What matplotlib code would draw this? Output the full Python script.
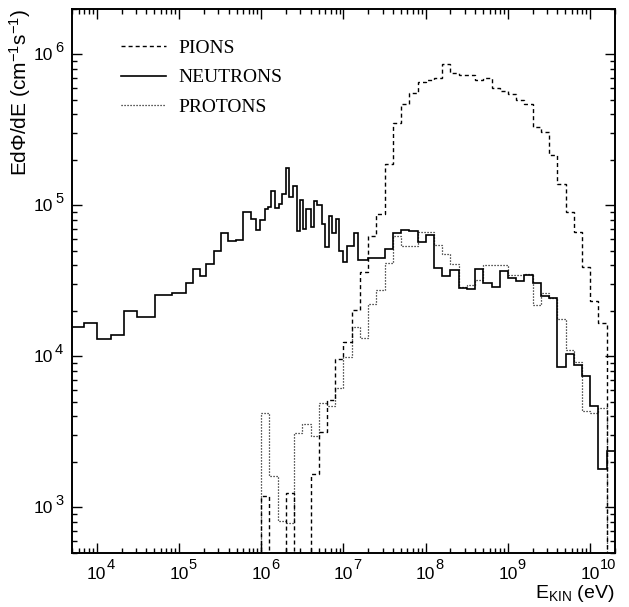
import numpy as np
import matplotlib
matplotlib.use('Agg')
import matplotlib.pyplot as plt
from matplotlib.lines import Line2D
from matplotlib.ticker import FixedLocator, LogLocator, NullFormatter, FuncFormatter

# bin edges in log10(E/eV)
neutron_log_edges = [3.60, 3.84, 4.00, 4.17, 4.33, 4.49, 4.71, 4.92, 5.08, 5.17,
                     5.25, 5.33, 5.42, 5.51, 5.60, 5.69, 5.78, 5.87, 5.94, 5.99,
                     6.04, 6.08, 6.12, 6.17, 6.21, 6.25, 6.30, 6.34, 6.38, 6.43,
                     6.47, 6.51, 6.55, 6.60, 6.64, 6.68, 6.74, 6.78, 6.82, 6.86,
                     6.91, 6.95, 7.00, 7.04, 7.13, 7.18, 7.3, 7.4, 7.5, 7.6,
                     7.7, 7.8, 7.9, 8.0, 8.1, 8.2, 8.3, 8.4, 8.5, 8.6,
                     8.7, 8.8, 8.9, 9.0, 9.1, 9.2, 9.3, 9.4, 9.5, 9.6,
                     9.7, 9.8, 9.9, 10.0, 10.1, 10.2, 10.3]
neutron_flux = [1.56e4, 1.65e4, 1.31e4, 1.38e4, 1.99e4, 1.81e4, 2.55e4, 2.61e4, 3.07e4, 3.80e4,
                3.38e4, 4.06e4, 4.97e4, 6.55e4, 5.85e4, 5.91e4, 9.08e4, 8.16e4, 6.90e4, 8.0e4,
                9.4e4, 9.7e4, 1.24e5, 9.55e4, 1.02e5, 1.19e5, 1.78e5, 1.13e5, 1.34e5, 6.81e4,
                1.09e5, 7.02e4, 9.5e4, 7.2e4, 1.07e5, 1.01e5, 7.5e4, 5.28e4, 8.45e4, 6.53e4,
                8.13e4, 4.97e4, 4.21e4, 5.42e4, 6.53e4, 4.36e4, 4.49e4, 4.49e4, 5.15e4, 6.53e4,
                6.88e4, 6.81e4, 5.70e4, 6.40e4, 3.86e4, 3.42e4, 3.74e4, 2.85e4, 2.80e4, 3.78e4,
                3.05e4, 2.90e4, 3.66e4, 3.31e4, 3.16e4, 3.46e4, 3.08e4, 2.51e4, 2.43e4, 8.51e3,
                1.04e4, 8.77e3, 7.39e3, 4.70e3, 1.80e3, 2.36e3]

hadron_log_edges = [5.9, 6.0, 6.1, 6.2, 6.3, 6.4, 6.5, 6.6, 6.7, 6.8,
                    6.9, 7.0, 7.1, 7.2, 7.3, 7.4, 7.5, 7.6, 7.7, 7.8,
                    7.9, 8.0, 8.1, 8.2, 8.3, 8.4, 8.5, 8.6, 8.7, 8.8,
                    8.9, 9.0, 9.1, 9.2, 9.3, 9.4, 9.5, 9.6, 9.7, 9.8,
                    9.9, 10.0, 10.1, 10.2, 10.3]
pion_flux = [0, 1.18e3, 0, 0, 1.24e3, 0, 0, 1.66e3, 3.17e3, 5.13e3,
             9.66e3, 1.24e4, 2.02e4, 3.61e4, 6.31e4, 8.77e4, 1.87e5, 3.53e5, 4.68e5, 5.58e5,
             6.59e5, 6.76e5, 7.0e5, 8.59e5, 7.55e5, 7.29e5, 7.29e5, 6.73e5, 6.94e5, 5.96e5,
             5.72e5, 5.50e5, 4.97e5, 4.68e5, 3.31e5, 3.04e5, 2.16e5, 1.38e5, 9.0e4, 6.64e4,
             3.90e4, 2.32e4, 1.66e4, 0]
proton_flux = [0, 4.23e3, 1.60e3, 806, 786, 3.09e3, 3.55e3, 2.97e3, 4.92e3, 4.68e3,
               6.12e3, 9.9e3, 1.56e4, 1.33e4, 2.23e4, 2.76e4, 4.14e4, 6.31e4, 5.34e4, 5.42e4,
               6.64e4, 6.64e4, 5.5e4, 4.78e4, 4.06e4, 2.88e4, 2.99e4, 3.21e4, 4.0e4, 4.0e4,
               4.0e4, 3.44e4, 3.47e4, 3.52e4, 2.18e4, 2.63e4, 2.43e4, 1.76e4, 1.10e4, 9.18e3,
               4.34e3, 4.19e3, 4.52e3, 0]

x_major = [1e4, 1e5, 1e6, 1e7, 1e8, 1e9, 1e10]
y_major = [1e3, 1e4, 1e5, 1e6]

plt.rcParams['font.family'] = ['Liberation Sans', 'DejaVu Sans']
plt.rcParams['mathtext.default'] = 'regular'

fig = plt.figure(figsize=(6.29, 6.07), dpi=100)
ax = fig.add_axes([0.1145, 0.0895, 0.8632, 0.8957])

floor = 1.0  # empty bins drop below the axis
pion_style = dict(color='k', lw=1.0, ls=(0, (2.9, 2.2)))
neutron_style = dict(color='k', lw=1.2, ls='-')
proton_style = dict(color='k', lw=0.9, ls=(0, (0.9, 1.5)))

ax.stairs(np.maximum(pion_flux, floor), 10 ** np.array(hadron_log_edges), baseline=None, **pion_style)
ax.stairs(np.maximum(neutron_flux, floor), 10 ** np.array(neutron_log_edges), baseline=None, **neutron_style)
ax.stairs(np.maximum(proton_flux, floor), 10 ** np.array(hadron_log_edges), baseline=None, **proton_style)

ax.set_xscale('log')
ax.set_yscale('log')
ax.set_xlim(5e3, 2e10)
ax.set_ylim(5e2, 2e6)

ax.xaxis.set_major_locator(FixedLocator(x_major))
ax.yaxis.set_major_locator(FixedLocator(y_major))
ax.xaxis.set_minor_locator(LogLocator(base=10, subs=range(2, 10), numticks=30))
ax.yaxis.set_minor_locator(LogLocator(base=10, subs=range(2, 10), numticks=30))
ax.xaxis.set_minor_formatter(NullFormatter())
ax.yaxis.set_minor_formatter(NullFormatter())
ax.xaxis.set_major_formatter(FuncFormatter(lambda v, p: '10'))
ax.yaxis.set_major_formatter(FuncFormatter(lambda v, p: '10'))

ax.tick_params(which='both', direction='in', top=True, right=True, labelsize=12.5)
ax.tick_params(which='major', length=7, width=1.0)
ax.tick_params(which='minor', length=3.5, width=1.0)
ax.tick_params(axis='x', which='major', pad=10.5)
ax.tick_params(axis='y', which='major', pad=13.5)
for sp in ax.spines.values():
    sp.set_linewidth(1.4)

# exponents of the tick labels
for v in x_major:
    ax.annotate(str(int(round(np.log10(v)))), xy=(v, 0), xycoords=('data', 'axes fraction'),
                xytext=(7.0, -4.0), textcoords='offset points', ha='left', va='top',
                fontsize=10.5, annotation_clip=False)
for v in y_major:
    ax.annotate(str(int(round(np.log10(v)))), xy=(0, v), xycoords=('axes fraction', 'data'),
                xytext=(-12.2, -0.5), textcoords='offset points', ha='left', va='bottom',
                fontsize=10.5, annotation_clip=False)

ax.set_ylabel('Ed\u03a6/dE (cm$^{-1}$s$^{-1}$)', fontsize=15, loc='top')
ax.yaxis.set_label_coords(-0.071, 1.0)
ax.set_xlabel('E$_{KIN}$ (eV)', fontsize=14, loc='right')
ax.xaxis.set_label_coords(1.0, -0.0557)

handles = [Line2D([], [], **pion_style), Line2D([], [], **neutron_style), Line2D([], [], **proton_style)]
ax.legend(handles, ['PIONS', 'NEUTRONS', 'PROTONS'], loc='upper left', bbox_to_anchor=(0.090, 0.944),
          frameon=False, borderpad=0, borderaxespad=0, handlelength=2.3, handletextpad=0.67,
          labelspacing=0.6, prop={'family': 'Liberation Serif', 'size': 14})

fig.savefig('out.png', dpi=100)
